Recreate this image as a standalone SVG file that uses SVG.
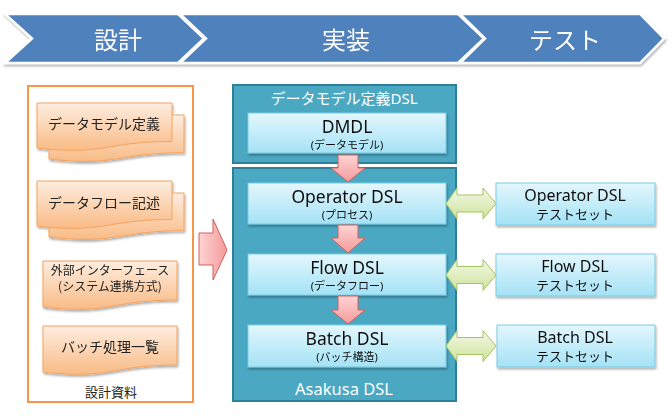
<svg xmlns="http://www.w3.org/2000/svg" width="672" height="416" viewBox="0 0 672 416">
<defs>
<linearGradient id="gDoc" x1="0" y1="0" x2="0" y2="1"><stop offset="0" stop-color="#FEEDE0"/><stop offset="1" stop-color="#F9BB85"/></linearGradient>
<linearGradient id="gBox" x1="0" y1="0" x2="0" y2="1"><stop offset="0" stop-color="#E4F7FD"/><stop offset="1" stop-color="#A4E2F6"/></linearGradient>
<linearGradient id="gPink" x1="0" y1="0" x2="0" y2="1"><stop offset="0" stop-color="#FFD4D4"/><stop offset="1" stop-color="#F49A9A"/></linearGradient>
<linearGradient id="gPinkH" x1="0" y1="0" x2="1" y2="0"><stop offset="0" stop-color="#FFD4D4"/><stop offset="1" stop-color="#F49A9A"/></linearGradient>
<linearGradient id="gGreen" x1="0" y1="0" x2="0" y2="1"><stop offset="0" stop-color="#F3F8E6"/><stop offset="1" stop-color="#CFE39C"/></linearGradient>
<filter id="sh" x="-10%" y="-10%" width="130%" height="140%"><feDropShadow dx="1" dy="2" stdDeviation="1.3" flood-color="#000" flood-opacity="0.3"/></filter>
</defs>
<style>
.chev{fill:#4F81BD;stroke:#fff;stroke-width:2.5;stroke-linejoin:miter}
.ct{font-family:"Noto Sans CJK JP",sans-serif;font-size:24px;fill:#fff;text-anchor:middle}
.frame{fill:#fff;stroke:#F79646;stroke-width:2}
.doc{fill:url(#gDoc);stroke:#F5A35F;stroke-width:1}
.jt{font-family:"Noto Sans CJK JP",sans-serif;fill:#222;text-anchor:middle}
.cont{fill:#4AA8C3;stroke:#2E7F98;stroke-width:2}
.box{fill:url(#gBox);stroke:#7FCBE3;stroke-width:1}
.lt{font-family:"Noto Sans","Noto Sans CJK JP",sans-serif;fill:#111;text-anchor:middle}
.wt{font-family:"Noto Sans","Noto Sans CJK JP",sans-serif;fill:#fff;text-anchor:middle}
.pink{fill:url(#gPink);stroke:#D0605C;stroke-width:1}
.pinkh{fill:url(#gPinkH);stroke:#D0605C;stroke-width:1}
.green{fill:url(#gGreen);stroke:#A3C460;stroke-width:1}
</style>
<rect width="672" height="416" fill="#fff"/>

<g id="phases" filter="url(#sh)">
<g id="phase-design"><path class="chev" d="M5,14 H178 L204,38.5 L178,63 H5 L32,38.5 Z"/><text class="ct" x="118" y="49">設計</text></g>
<g id="phase-impl"><path class="chev" d="M180,14 H458 L484,38.5 L458,63 H180 L206,38.5 Z"/><text class="ct" x="346" y="49">実装</text></g>
<g id="phase-test"><path class="chev" d="M460,14 H640 L664,38.5 L640,63 H460 L485,38.5 Z"/><text class="ct" x="565" y="49">テスト</text></g>
</g>

<g id="design-docs">
<rect class="frame" x="28" y="86" width="165" height="316"/>
<g id="doc-datamodel" filter="url(#sh)">
<path class="doc" d="M49,115 H184 V152.7 C116.5,152.7 116.5,167 49,159 Z"/>
<path class="doc" d="M37,103 H172 V141.5 C104.5,141.5 104.5,156 37,148 Z"/>
<text class="jt" x="104" y="129" font-size="14">データモデル定義</text>
</g>
<g id="doc-dataflow" filter="url(#sh)">
<path class="doc" d="M49,193 H184 V230.7 C116.5,230.7 116.5,245 49,237 Z"/>
<path class="doc" d="M37,181 H172 V219.5 C104.5,219.5 104.5,234 37,226 Z"/>
<text class="jt" x="104" y="208" font-size="14">データフロー記述</text>
</g>
<g id="doc-interface" filter="url(#sh)">
<path class="doc" d="M43,261 H177 V300 C110,300 110,315 43,307 Z"/>
<text class="jt" x="110" y="275" font-size="12">外部インターフェース</text>
<text class="jt" x="110" y="291" font-size="12">(システム連携方式)</text>
</g>
<g id="doc-batchlist" filter="url(#sh)">
<path class="doc" d="M43,326 H177 V365 C110,365 110,380 43,372 Z"/>
<text class="jt" x="110" y="352" font-size="14">バッチ処理一覧</text>
</g>
<text class="jt" x="111" y="397" font-size="13">設計資料</text>
</g>

<g id="dmdl-container">
<rect class="cont" x="233" y="85" width="223" height="78"/>
<text class="wt" x="344" y="104" font-size="15">データモデル定義DSL</text>
<g id="dmdl" filter="url(#sh)">
<rect class="box" x="248" y="113" width="198" height="40"/>
<text class="lt" x="347" y="133" font-size="17.5">DMDL</text>
<text class="lt" x="347" y="149" font-size="11">(データモデル)</text>
</g>
</g>

<g id="asakusa-container">
<rect class="cont" x="233" y="168" width="223" height="233"/>
<text class="wt" x="344" y="395" font-size="16.5">Asakusa DSL</text>
<g id="operator-dsl" filter="url(#sh)">
<rect class="box" x="248" y="183" width="198" height="41"/>
<text class="lt" x="347" y="203" font-size="17.5">Operator DSL</text>
<text class="lt" x="347" y="219" font-size="11">(プロセス)</text>
</g>
<g id="flow-dsl" filter="url(#sh)">
<rect class="box" x="248" y="254" width="198" height="41"/>
<text class="lt" x="347" y="274" font-size="17.5">Flow DSL</text>
<text class="lt" x="347" y="290" font-size="11">(データフロー)</text>
</g>
<g id="batch-dsl" filter="url(#sh)">
<rect class="box" x="248" y="325" width="198" height="42"/>
<text class="lt" x="347" y="345" font-size="17.5">Batch DSL</text>
<text class="lt" x="347" y="361" font-size="11">(バッチ構造)</text>
</g>
</g>

<g id="tests">
<g id="test-operator" filter="url(#sh)">
<rect class="box" x="496" y="183" width="159" height="42"/>
<text class="lt" x="575" y="201" font-size="16">Operator DSL</text>
<text class="lt" x="575" y="219" font-size="13">テストセット</text>
</g>
<g id="test-flow" filter="url(#sh)">
<rect class="box" x="496" y="254" width="159" height="42"/>
<text class="lt" x="575" y="272" font-size="16">Flow DSL</text>
<text class="lt" x="575" y="290" font-size="13">テストセット</text>
</g>
<g id="test-batch" filter="url(#sh)">
<rect class="box" x="497" y="325" width="158" height="42"/>
<text class="lt" x="575" y="343" font-size="16">Batch DSL</text>
<text class="lt" x="575" y="361" font-size="13">テストセット</text>
</g>
</g>

<g id="connectors">
<path class="pinkh" d="M199,233 H213 V219 L227,250 L213,280 V265 H199 Z"/>
<path class="pink" d="M338,155 H358 V168 H365 L348,182 L331,168 H338 Z"/>
<path class="pink" d="M338,225 H358 V238 H365 L348,253 L331,238 H338 Z"/>
<path class="pink" d="M338,296 H358 V310 H365 L348,324 L331,310 H338 Z"/>
<path class="green" d="M446,203.5 L457,188 V195 H483 V188 L496,203.5 L483,219 V212 H457 V219 Z"/>
<path class="green" d="M446,275 L457,259.5 V266.5 H483 V259.5 L496,275 L483,290.5 V283.5 H457 V290.5 Z"/>
<path class="green" d="M446,346 L457,330.5 V337.5 H483 V330.5 L496,346 L483,361.5 V354.5 H457 V361.5 Z"/>
</g>
</svg>
